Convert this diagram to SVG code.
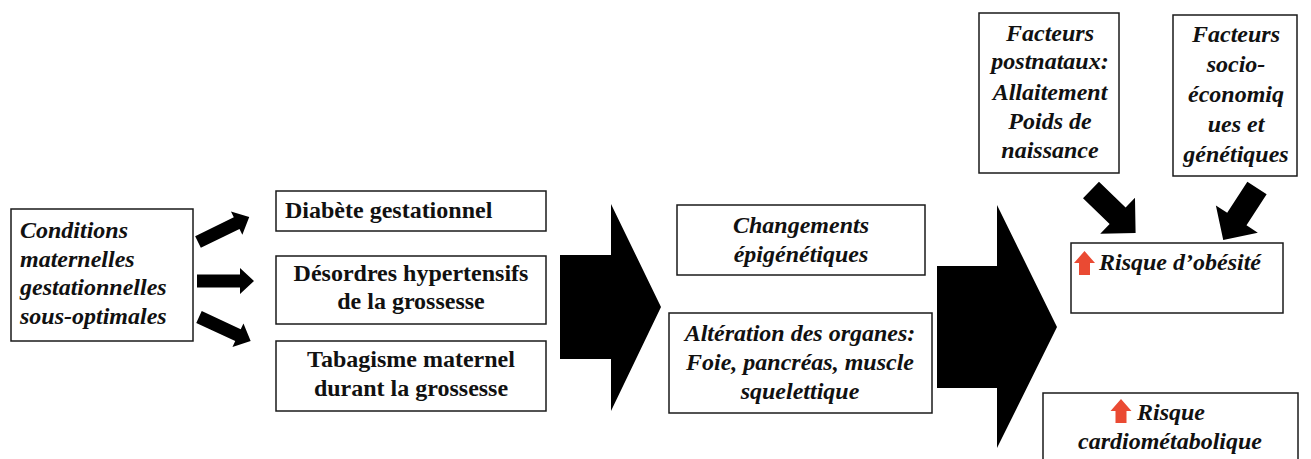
<svg xmlns="http://www.w3.org/2000/svg" width="1311" height="459" viewBox="0 0 1311 459">
<style>
.box{fill:#fff;stroke:#1a1a1a;stroke-width:1.5}
.t{font-family:"Liberation Serif","Times New Roman",serif;font-size:24px;font-weight:bold;fill:#111}
.i{font-style:italic}
.c{text-anchor:middle}
.arr{fill:#000}
.red{fill:#EA4A33}
</style>
<rect width="1311" height="459" fill="#fff"/>
<defs>
<path id="small" d="M0,-6.5 H43 V-13 L57,0 L43,13 V6.5 H0 Z"/>
<path id="diag" d="M0,-11.5 H37 V-25 L62,0 L37,25 V11.5 H0 Z"/>
<path id="up" d="M0,0 L10.5,12 H5.5 V24 H-5.5 V12 H-10.5 Z"/>
</defs>
<g id="connectors">
<use href="#small" class="arr" transform="translate(198,242) rotate(-26)"/>
<use href="#small" class="arr" transform="translate(197,281)"/>
<use href="#small" class="arr" transform="translate(199,317) rotate(25)"/>
<path class="arr" d="M560,255 H611 V204 L661,307 L611,411 V359 H560 Z"/>
<path class="arr" d="M937,266 H997 V205 L1057,327 L997,448 V388 H937 Z"/>
<use href="#diag" class="arr" transform="translate(1091,190) rotate(44)"/>
<use href="#diag" class="arr" transform="translate(1257,188) rotate(123)"/>
</g>
<g id="conditions">
<rect class="box" x="11" y="209" width="182" height="132"/>
<text class="t i" x="20" y="238">Conditions</text>
<text class="t i" x="20" y="267">maternelles</text>
<text class="t i" x="20" y="295">gestationnelles</text>
<text class="t i" x="20" y="324">sous-optimales</text>
</g>
<g id="diabete">
<rect class="box" x="276" y="191" width="270" height="40"/>
<text class="t" x="285" y="218">Diabète gestationnel</text>
</g>
<g id="desordres">
<rect class="box" x="276" y="256" width="270" height="68"/>
<text class="t c" x="411" y="281">Désordres hypertensifs</text>
<text class="t c" x="411" y="309">de la grossesse</text>
</g>
<g id="tabagisme">
<rect class="box" x="276" y="341" width="270" height="70"/>
<text class="t c" x="411" y="367">Tabagisme maternel</text>
<text class="t c" x="411" y="396">durant la grossesse</text>
</g>
<g id="changements">
<rect class="box" x="677" y="205" width="248" height="70"/>
<text class="t i c" x="801" y="233">Changements</text>
<text class="t i c" x="801" y="262">épigénétiques</text>
</g>
<g id="alteration">
<rect class="box" x="669" y="313" width="263" height="100"/>
<text class="t i c" x="800" y="341">Altération des organes:</text>
<text class="t i c" x="800" y="370">Foie, pancréas, muscle</text>
<text class="t i c" x="800" y="399">squelettique</text>
</g>
<g id="postnataux">
<rect class="box" x="979" y="13" width="140" height="160"/>
<text class="t i c" x="1050" y="41">Facteurs</text>
<text class="t i c" x="1050" y="69">postnataux:</text>
<text class="t i c" x="1050" y="100">Allaitement</text>
<text class="t i c" x="1050" y="129">Poids de</text>
<text class="t i c" x="1050" y="158">naissance</text>
</g>
<g id="socio">
<rect class="box" x="1173" y="15" width="124" height="161"/>
<text class="t i c" x="1236" y="42">Facteurs</text>
<text class="t i c" x="1236" y="72">socio-</text>
<text class="t i c" x="1236" y="102">économiq</text>
<text class="t i c" x="1236" y="132">ues et</text>
<text class="t i c" x="1236" y="162">génétiques</text>
</g>
<g id="obesite">
<rect class="box" x="1071" y="243" width="212" height="70"/>
<use href="#up" class="red" transform="translate(1084.5,251)"/>
<text class="t i" x="1099" y="270">Risque d’obésité</text>
</g>
<g id="cardio">
<rect class="box" x="1043" y="393" width="255" height="80"/>
<use href="#up" class="red" transform="translate(1121,399)"/>
<text class="t i" x="1137" y="420">Risque</text>
<text class="t i c" x="1170" y="449">cardiométabolique</text>
</g>
</svg>
